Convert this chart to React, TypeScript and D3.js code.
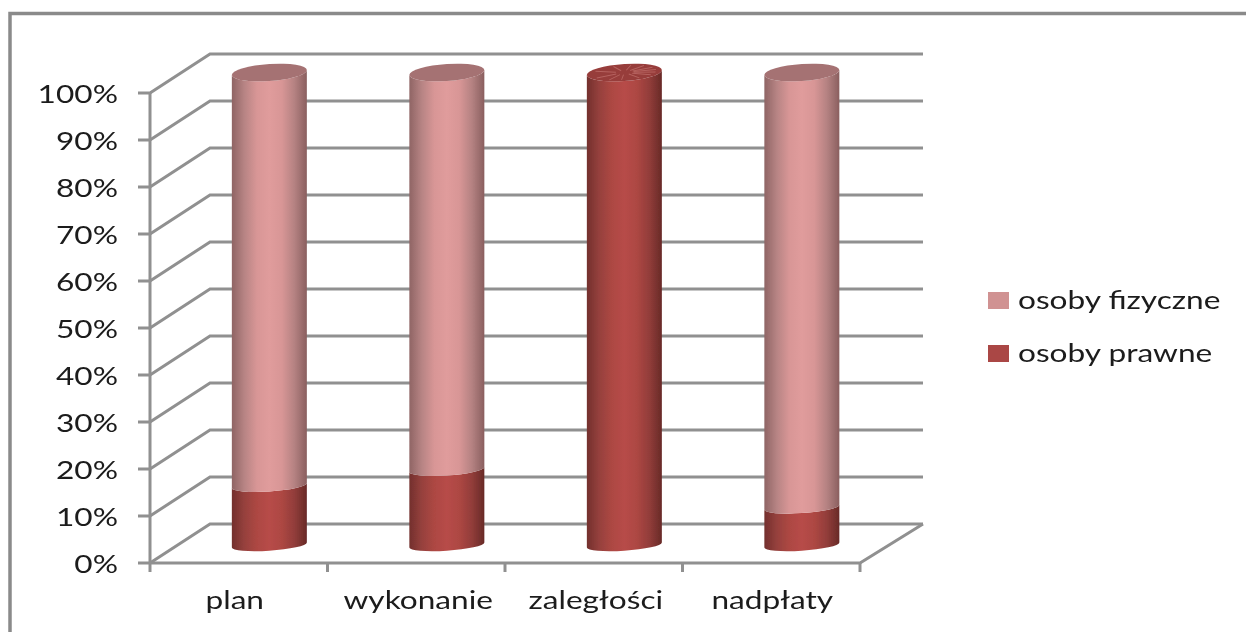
import React from 'react';
import * as d3 from 'd3';

const categories = ['plan', 'wykonanie', 'zaległości', 'nadpłaty'];
const osobyPrawne = [12.6, 16, 100, 8];
const osobyFizyczne = [87.4, 84, 0, 92];
const seriesNames = ['osoby fizyczne', 'osoby prawne'];
const yTicks = [0, 10, 20, 30, 40, 50, 60, 70, 80, 90, 100];
const capStreaks = [-78, -52, -28, -8, 12, 34, 62, 95, 118, 150, 205, 250];

const width = 1246;
const height = 632;
const depthX = 60;
const depthY = -39;
const gridColor = '#909090';
const textColor = '#1a1a1a';
const font = 'Lato, sans-serif';
// the reference picture is stretched sideways, so the text is too
const stretch = 1.24;
const labelNudge = [-4, 2, 2, 1];

const x = d3.scaleBand<string>().domain(categories).range([150, 860]);
const y = d3.scaleLinear().domain([0, 100]).range([563, 93]);
// cylinders stand in the middle of the floor, so they get their own vertical scale
const cylY = d3.scaleLinear().domain([0, 100]).range([545, 72.5]);
const cylRy = d3.scaleLinear().domain([0, 100]).range([5.7, 8.5]);
const rx = 37.5;

function Gradient({ id, stops }: { id: string; stops: string[] }) {
  const pos = d3.scaleLinear().domain([0, stops.length - 1]).range([0, 100]);
  return (
    <linearGradient id={id} x1="0" x2="1" y1="0" y2="0">
      {stops.map((c, i) => (
        <stop key={i} offset={pos(i) + '%'} stopColor={c} />
      ))}
    </linearGradient>
  );
}

function Label({ x: tx, y: ty, anchor, children }: { x: number; y: number; anchor?: string; children: React.ReactNode }) {
  return (
    <text transform={`translate(${tx},${ty}) scale(${stretch},1)`} textAnchor={anchor}>
      {children}
    </text>
  );
}

function segmentPath(from: number, to: number) {
  const yb = cylY(from);
  const yt = cylY(to);
  const rb = cylRy(from);
  const rt = cylRy(to);
  return `M${-rx},${yb}A${rx},${rb} 0 0 0 ${rx},${yb}L${rx},${yt}A${rx},${rt} 0 0 1 ${-rx},${yt}Z`;
}

function Cylinder({ i }: { i: number }) {
  const cx = x(categories[i])! + x.bandwidth() / 2 + depthX * 0.51;
  const low = osobyPrawne[i];
  const total = low + osobyFizyczne[i];
  const topY = cylY(total);
  const topR = cylRy(total);
  const solid = osobyFizyczne[i] === 0;
  return (
    <g transform={`translate(${cx},0) skewY(-3.8)`}>
      <path d={segmentPath(0, low)} fill="url(#redBody)" />
      {osobyFizyczne[i] > 0 && <path d={segmentPath(low, total)} fill="url(#pinkBody)" />}
      <ellipse cx={0} cy={topY} rx={rx} ry={topR} fill={solid ? '#973c3a' : '#a57273'} />
      {solid &&
        capStreaks.map((a) => {
          const r = (a * Math.PI) / 180;
          return (
            <line
              key={a}
              x1={Math.cos(r) * rx * 0.25}
              y1={topY + Math.sin(r) * topR * 0.25}
              x2={Math.cos(r) * rx * 0.85}
              y2={topY + Math.sin(r) * topR * 0.85}
              stroke="#b5625f"
              strokeWidth={1}
            />
          );
        })}
    </g>
  );
}

export default function App() {
  const xEdges = [...categories.map((c) => x(c)!), 860];
  return (
    <svg
      width={width}
      height={height}
      style={{ position: 'absolute', left: 0, top: 0, background: '#fff' }}
    >
      <defs>
        <Gradient id="pinkBody" stops={['#8f6464', '#b78484', '#d89696', '#e09c9c', '#d89696', '#b58282', '#8a5f5f']} />
        <Gradient id="redBody" stops={['#732f2d', '#96413d', '#ad4743', '#b74c48', '#ad4743', '#923d3a', '#682a27']} />
        <filter id="soft" x="-2%" y="-2%" width="104%" height="104%">
          <feGaussianBlur stdDeviation="0.55" />
        </filter>
      </defs>

      <g filter="url(#soft)">
        {/* frame only has left and top edges in view */}
        <path d="M10,632V13.5H1246" fill="none" stroke="#8a8a8a" strokeWidth={3.5} />

        {/* walls and gridlines */}
        <g fill="none" stroke={gridColor} strokeWidth={3}>
          {yTicks.map((t) => (
            <path
              key={t}
              d={`M138,${y(t)}H150L${150 + depthX},${y(t) + depthY}H923`}
            />
          ))}
          <path d={`M150,${y(100)}V${y(0)}`} />
          <path d={`M150,${y(0)}H860L923,${y(0) + depthY}`} />
          {xEdges.map((e) => (
            <path key={e} d={`M${e},${y(0)}V572`} />
          ))}
        </g>

        {categories.map((c, i) => (
          <Cylinder key={c} i={i} />
        ))}

        <g fontFamily={font} fontSize={25.5} fill={textColor}>
          {yTicks.map((t) => (
            <Label key={t} x={118} y={y(t) + 9.5} anchor="end">
              {t}%
            </Label>
          ))}
          {categories.map((c, i) => (
            <Label key={c} x={x(c)! + x.bandwidth() / 2 + labelNudge[i]} y={609} anchor="middle">
              {c}
            </Label>
          ))}
          <rect x={988} y={292} width={21} height={17} fill="#d09292" />
          <Label x={1018} y={309}>{seriesNames[0]}</Label>
          <rect x={988} y={345} width={21} height={17} fill="#aa4644" />
          <Label x={1018} y={362}>{seriesNames[1]}</Label>
        </g>
      </g>
    </svg>
  );
}
